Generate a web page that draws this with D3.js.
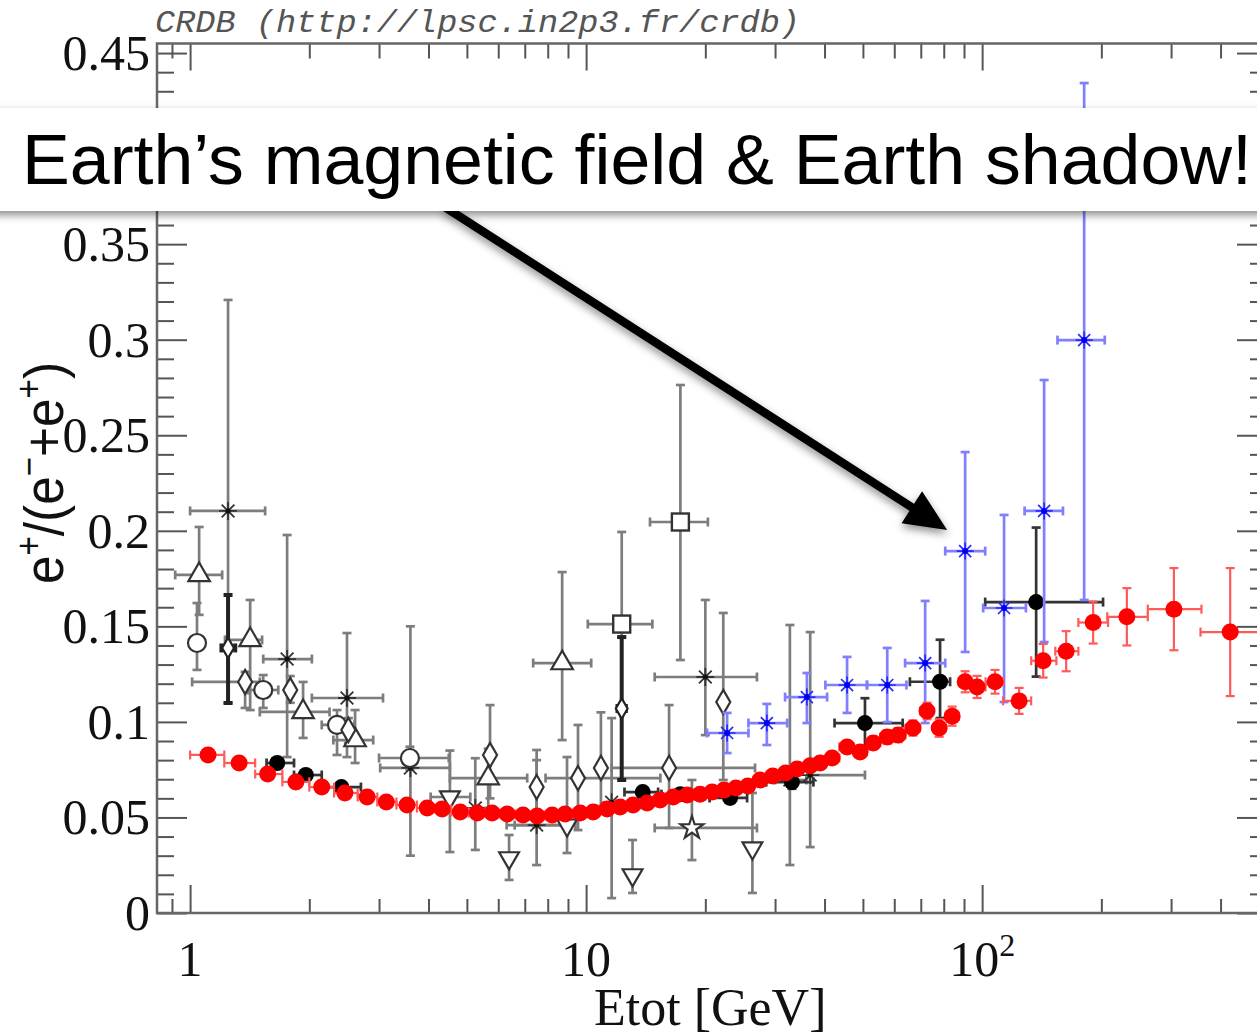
<!DOCTYPE html>
<html><head><meta charset="utf-8">
<script src="https://cdn.jsdelivr.net/npm/d3@7"></script>
<style>html,body{margin:0;padding:0;background:#fff;overflow:hidden}</style>
</head><body>
<svg id="c" width="1257" height="1035"></svg>
<script>
// ---------------- data ----------------
const xMajor = [1, 10, 100];
const xTickLabels = [["1", ""], ["10", ""], ["10", "2"]];
const xMinor = [0.9, 2, 3, 4, 5, 6, 7, 8, 9, 20, 30, 40, 50, 60, 70, 80, 90, 200, 300, 400, 500];
const yMajor = [0, 0.05, 0.1, 0.15, 0.2, 0.25, 0.3, 0.35, 0.4, 0.45];
const yTickLabels = ["0", "0.05", "0.1", "0.15", "0.2", "0.25", "0.3", "0.35", "0.4", "0.45"];
const yMinor = d3.range(1, 46).map(i => i / 100).filter(v => Math.round(v * 100) % 5 !== 0);

// red series: [E, value, error, Elow, Ehigh]
const redPts = [
 [1.11,.0827,.0022,1.00,1.22],[1.33,.0785,.002,1.22,1.46],[1.57,.0727,.002,1.46,1.71],
 [1.85,.0686,.0018,1.71,2.00],[2.15,.0659,.0018,2.00,2.31],[2.46,.0628,.0016,2.31,2.65],
 [2.80,.0607,.0016,2.65,2.97],[3.13,.0581,.0014,2.97,3.32],[3.53,.0565,.0014,3.32,3.74],
 [3.97,.0549,.0013,3.74,4.15],[4.33,.0544,.0013,4.15,4.56],[4.81,.0529,.0012,4.56,5.05],
 [5.31,.0523,.0012,5.05,5.55],[5.79,.0523,.0012,5.55,6.05],[6.32,.0518,.0012,6.05,6.62],
 [6.93,.0513,.0012,6.62,7.22],[7.52,.0508,.0012,7.22,7.86],[8.21,.0513,.0012,7.86,8.53],
 [8.85,.0518,.0013,8.53,9.25],[9.66,.0523,.0013,9.25,10.0],[10.42,.0529,.0013,10.0,10.85],
 [11.30,.0544,.0014,10.85,11.74],[12.19,.0555,.0014,11.74,12.66],[13.14,.0565,.0015,12.66,13.69],
 [14.26,.0576,.0015,13.69,14.81],[15.38,.0591,.0016,14.81,15.97],[16.6,.0607,.0017,15.97,17.3],
 [18.0,.0617,.0017,17.3,18.7],[19.4,.0622,.0018,18.7,20.1],[20.8,.0633,.0019,20.1,21.5],
 [22.3,.0643,.002,21.5,23.1],[23.9,.0654,.002,23.1,24.7],[25.6,.0665,.0021,24.7,26.5],
 [27.5,.0696,.0022,26.5,28.5],[29.6,.0717,.0023,28.5,30.7],[31.9,.0733,.0024,30.7,33.0],
 [34.1,.0754,.0025,33.0,35.4],[36.8,.0770,.0026,35.4,37.9],[39.0,.0785,.0027,37.9,40.4],
 [41.8,.0811,.0028,40.4,43.6],[45.6,.0869,.003,43.6,47.4],[49.2,.0843,.0031,47.4,51.1],
 [53.1,.0890,.0033,51.1,55.3],[57.6,.0921,.0035,55.3,59.5],[61.4,.0931,.0037,59.5,64.0],
 [66.9,.0968,.004,64.0,69.7],[72.6,.1057,.0043,69.7,75.2],[77.9,.0968,.0046,75.2,80.9],
 [84.0,.1030,.005,80.9,87.3],[90.6,.1210,.0055,87.3,93.8],[97.1,.1183,.0058,93.8,102],
 [107.8,.1210,.0062,102,113],[124,.1110,.0068,113,133],[142.6,.1320,.0088,133,154],
 [163,.1370,.0105,153,175],[190.7,.1520,.011,175,208],[232,.1550,.015,207,262],
 [305,.1590,.0215,262,358],[423,.1470,.0335,356,600]
];
// other series: [E, value, low, high, Elow, Ehigh]
const blackPts = [
 [1.66,.0785,.0770,.0800,1.56,1.83],[1.96,.0722,.0708,.0736,1.83,2.15],[2.41,.0659,.0645,.0673,2.15,2.70],
 [13.9,.0633,.0610,.0656,12.5,15.2],[17.3,.0622,.0597,.0647,15.5,19.0],[23.1,.0602,.0575,.0629,20.5,25.5],
 [33.1,.0685,.0650,.0720,28.5,37.5],[50.6,.0994,.0864,.1124,42.4,63.0],[78.3,.1210,.1020,.1430,65.7,83.0],
 [136.9,.1627,.1237,.2017,101.8,202]
];
const bluePts = [
 [22.7,.0942,.0837,.1047,20.2,25.7],[28.6,.0994,.0879,.1094,25.7,32.2],[36.1,.1130,.0994,.1256,31.8,40.6],
 [45.6,.1193,.1047,.1340,40.2,51.2],[57.6,.1193,.0999,.1387,51.2,64.4],[71.8,.1308,.0994,.1633,63.9,80.7],
 [90.6,.1894,.1366,.2412,80.7,101.8],[113.6,.1596,.1104,.2083,100.6,129],[143.4,.2104,.1418,.2789,128,160],
 [181,.2998,.1638,.4343,155,204]
];
const asteriskPts = [
 [1.247,.2104,.1099,.3208,1.0,1.547],[1.758,.1329,.0816,.1978,1.53,2.03],[2.49,.1125,.0816,.1465,2.03,3.07],
 [3.6,.0759,.0300,.1500,3.02,4.53],[5.25,.0550,.0330,.0810,null,null],[7.5,.0460,.0251,.0853,6.3,8.9],
 [11.6,.0580,.0078,.1020,null,null],[20.0,.1235,.0931,.1638,14.9,27.0],[32.7,.0696,.0251,.1507,30.0,36.0],
 [36.8,.0722,.0345,.1470,36.2,50.6]
];
const triUpPts = [
 [1.054,.1769,.1560,.2020,0.917,1.205],[1.418,.1429,.1062,.1638,1.225,1.52],[1.929,.1052,.0916,.1209,1.50,2.25],
 [2.61,.0905,.0785,.1062,2.3,2.9],[5.66,.0706,.0550,.0860,4.53,7.1],[8.7,.1308,.0905,.1784,7.35,10.3]
];
const circlePts = [
 [1.041,.1413,.1272,.1622,null,null],[1.53,.1167,.1073,.1245,1.4,1.67],[2.35,.0984,.0827,.1062,2.15,2.6],
 [3.59,.0811,.0750,.0870,3.0,4.5]
];
const diamondPts = [
 [1.377,.1209,.1073,.1262,1.012,1.50],[1.79,.1167,.1100,.1240,null,null],[2.51,.0958,.0890,.1020,null,null],
 [5.72,.0827,.0600,.1088,null,null],[7.5,.0659,.0450,.0800,null,null],[9.54,.0706,.0434,.0984,7.9,15.4],
 [10.9,.0759,.0560,.1050,null,null],[16.2,.0759,.0445,.1088,11.6,26.7],[22.2,.1104,.0696,.1570,null,null]
];
const squarePts = [
 [17.3,.2046,.1324,.2763,14.5,20.3],[12.3,.1512,.1444,.1994,10.1,14.7]
];
const thickPts = [
 [1.247,.1387,.1099,.1664,1.2,1.3],[12.3,.1070,.0696,.1444,12.0,12.6]
];
const triDownPts = [
 [4.53,.0607,.0319,.0850,4.05,5.1],[6.39,.0288,.0173,.0408,null,null],[8.95,.0460,.0314,.0816,6.6,9.4],
 [13.1,.0199,.0105,.0382,null,null],[26.3,.0340,.0105,.0628,null,null]
];
const starPts = [[18.5,.0445,.0277,.0696,14.9,27.0]];

// annotation anchor points (data coordinates)
const arrowTail = [4.4, 0.3694];
const arrowTip = [81.6, 0.2004];
const calloutText = "Earth\u2019s magnetic field & Earth shadow!";

// ---------------- chart ----------------
const svg = d3.select("#c");
const x = d3.scaleLog().domain([0.825, 524]).range([157, 1267]);
const y = d3.scaleLinear().domain([0, 0.455]).range([913, 43.5]);
const X0 = 157, X1 = 1267, Y0 = 913, Y1 = 43.5;
const BOX_TOP = 108, BOX_H = 103;

const defs = svg.append("defs");
const f = defs.append("filter").attr("id", "sh").attr("x", "-10%").attr("y", "-30%").attr("width", "120%").attr("height", "170%");
f.append("feDropShadow").attr("dx", 0).attr("dy", 4).attr("stdDeviation", 4).attr("flood-color", "#000").attr("flood-opacity", 0.45);

// header
svg.append("text").attr("x", 155).attr("y", 32)
  .attr("font-family", "Liberation Mono, monospace").attr("font-style", "italic")
  .attr("font-size", 32).attr("fill", "#555").attr("textLength", 645).attr("lengthAdjust", "spacingAndGlyphs")
  .text("CRDB (http://lpsc.in2p3.fr/crdb)");

// axes
function styleAxis(g) {
  g.select(".domain").remove();
  g.selectAll(".tick line").attr("stroke", "#555").attr("stroke-width", 2);
  g.selectAll(".tick text").remove();
}
svg.append("g").attr("transform", `translate(0,${Y0})`).call(d3.axisBottom(x).tickValues(xMajor).tickSize(-28)).call(styleAxis);
svg.append("g").attr("transform", `translate(0,${Y0})`).call(d3.axisBottom(x).tickValues(xMinor).tickSize(-14)).call(styleAxis);
svg.append("g").attr("transform", `translate(0,${Y1})`).call(d3.axisTop(x).tickValues(xMajor).tickSize(-27)).call(styleAxis);
svg.append("g").attr("transform", `translate(0,${Y1})`).call(d3.axisTop(x).tickValues(xMinor).tickSize(-15)).call(styleAxis);
svg.append("g").attr("transform", `translate(${X0},0)`).call(d3.axisLeft(y).tickValues(yMajor).tickSize(-30)).call(styleAxis);
svg.append("g").attr("transform", `translate(${X0},0)`).call(d3.axisLeft(y).tickValues(yMinor).tickSize(-17)).call(styleAxis);
svg.append("g").attr("transform", `translate(${X1},0)`).call(d3.axisRight(y).tickValues(yMajor).tickSize(-30)).call(styleAxis);
svg.append("g").attr("transform", `translate(${X1},0)`).call(d3.axisRight(y).tickValues(yMinor).tickSize(-17)).call(styleAxis);
svg.append("rect").attr("x", X0).attr("y", Y1).attr("width", X1 - X0).attr("height", Y0 - Y1)
  .attr("fill", "none").attr("stroke", "#666").attr("stroke-width", 2.5);

// tick labels (labels lying under the callout box are not visible in the reference)
const serif = "Liberation Serif, Times New Roman, serif";
const yLab = yMajor.map((v, i) => ({ v, t: yTickLabels[i] }))
  .filter(d => y(d.v) < BOX_TOP - 10 || y(d.v) > BOX_TOP + BOX_H + 10);
svg.append("g").selectAll("text").data(yLab).join("text")
  .attr("x", 150).attr("y", d => y(d.v)).attr("dy", "0.34em").attr("text-anchor", "end")
  .attr("font-family", serif).attr("font-size", 50).attr("fill", "#111")
  .text(d => d.t);
const xl = svg.append("g").selectAll("text").data(xMajor).join("text")
  .attr("x", d => x(d)).attr("y", 976).attr("text-anchor", "middle")
  .attr("font-family", serif).attr("font-size", 50).attr("fill", "#111");
xl.append("tspan").text((d, i) => xTickLabels[i][0]);
xl.append("tspan").attr("dy", -20).attr("font-size", 32).text((d, i) => xTickLabels[i][1]);
svg.append("text").attr("x", 594).attr("y", 1025).attr("font-family", serif).attr("font-size", 52)
  .attr("fill", "#111").text("Etot [GeV]");

// y title
const yt = svg.append("text").attr("transform", "translate(63,584) rotate(-90)")
  .attr("font-family", "Liberation Sans, Arial, sans-serif").attr("font-size", 56).attr("fill", "#111")
  .attr("textLength", 222).attr("lengthAdjust", "spacingAndGlyphs");
yt.append("tspan").text("e");
yt.append("tspan").attr("dy", -22).attr("font-size", 36).text("+");
yt.append("tspan").attr("dy", 22).text("/(e");
yt.append("tspan").attr("dy", -22).attr("font-size", 36).text("\u2212");
yt.append("tspan").attr("dy", 22).text("+e");
yt.append("tspan").attr("dy", -22).attr("font-size", 36).text("+");
yt.append("tspan").attr("dy", 22).text(")");

// error bars + markers
const plot = svg.append("g");
function errBars(data, color, width, cap) {
  const g = plot.append("g").attr("stroke", color).attr("stroke-width", width).attr("fill", "none");
  data.forEach(d => {
    const [E, v, lo, hi, el, eh] = d;
    const px = x(E), py = y(v);
    if (lo != null) {
      g.append("line").attr("x1", px).attr("x2", px).attr("y1", y(lo)).attr("y2", y(hi));
      g.append("line").attr("x1", px - cap).attr("x2", px + cap).attr("y1", y(lo)).attr("y2", y(lo));
      g.append("line").attr("x1", px - cap).attr("x2", px + cap).attr("y1", y(hi)).attr("y2", y(hi));
    }
    if (el != null) {
      g.append("line").attr("x1", x(el)).attr("x2", x(eh)).attr("y1", py).attr("y2", py);
      g.append("line").attr("x1", x(el)).attr("x2", x(el)).attr("y1", py - cap).attr("y2", py + cap);
      g.append("line").attr("x1", x(eh)).attr("x2", x(eh)).attr("y1", py - cap).attr("y2", py + cap);
    }
  });
}
function asteriskPath(r) {
  let p = "";
  [0, 45, 90, 135].forEach(a => {
    const c = Math.cos(a * Math.PI / 180) * r, s = Math.sin(a * Math.PI / 180) * r;
    p += `M${-c},${-s}L${c},${s}`;
  });
  return p;
}
function markers(data, fn) {
  const g = plot.append("g");
  data.forEach(d => fn(g.append("g").attr("transform", `translate(${x(d[0])},${y(d[1])})`)));
}
const sym = (type, size) => d3.symbol().type(type).size(size)();

const grey = "#7d7d7d";
errBars(asteriskPts, grey, 2.7, 4.5);
errBars(triUpPts, grey, 2.7, 4.5);
errBars(circlePts, grey, 2.7, 4.5);
errBars(diamondPts, grey, 2.7, 4.5);
errBars(squarePts, grey, 2.7, 4.5);
errBars(triDownPts, grey, 2.7, 4.5);
errBars(starPts, grey, 2.7, 4.5);
errBars(thickPts, "#222", 4, 4.5);

markers(asteriskPts, g => { g.append("path").attr("d", asteriskPath(9)).attr("stroke", "#333").attr("stroke-width", 1.8);
  g.append("circle").attr("r", 2.5).attr("fill", "#111"); });
markers(triUpPts, g => g.append("path").attr("d", sym(d3.symbolTriangle, 200)).attr("fill", "#fff").attr("stroke", "#333").attr("stroke-width", 2.2));
markers(circlePts, g => g.append("circle").attr("r", 9).attr("fill", "#fff").attr("stroke", "#333").attr("stroke-width", 2.2));
markers(diamondPts, g => g.append("path").attr("d", sym(d3.symbolDiamond, 170)).attr("fill", "#fff").attr("stroke", "#333").attr("stroke-width", 2.2));
markers(squarePts, g => g.append("rect").attr("x", -8.5).attr("y", -8.5).attr("width", 17).attr("height", 17).attr("fill", "#fff").attr("stroke", "#333").attr("stroke-width", 2.4));
markers(triDownPts, g => g.append("path").attr("d", sym(d3.symbolTriangle, 170)).attr("transform", "rotate(180)").attr("fill", "#fff").attr("stroke", "#333").attr("stroke-width", 2.2));
markers(starPts, g => g.append("path").attr("d", sym(d3.symbolStar, 160)).attr("fill", "#fff").attr("stroke", "#333").attr("stroke-width", 2.2));
markers(thickPts, g => g.append("path").attr("d", sym(d3.symbolDiamond, 120)).attr("fill", "#fff").attr("stroke", "#222").attr("stroke-width", 2.2));

errBars(blackPts, "#333", 2.7, 4.5);
markers(blackPts, g => g.append("circle").attr("r", 8).attr("fill", "#000"));

errBars(bluePts, "#7f7fff", 2.7, 4.5);
markers(bluePts, g => { g.append("path").attr("d", asteriskPath(8.5)).attr("stroke", "#2a2aff").attr("stroke-width", 1.7);
  g.append("circle").attr("r", 3).attr("fill", "#0000ee"); });

const redFull = redPts.map(d => [d[0], d[1], d[1] - d[2], d[1] + d[2], d[3], d[4]]);
errBars(redFull, "#ff5a5a", 2.2, 4.5);
markers(redFull, g => g.append("circle").attr("r", 8.5).attr("fill", "#ff0000"));

// arrow (annotation)
const ax0 = x(arrowTail[0]), ay0 = y(arrowTail[1]), ax1 = x(arrowTip[0]), ay1 = y(arrowTip[1]);
const len = Math.hypot(ax1 - ax0, ay1 - ay0), ux = (ax1 - ax0) / len, uy = (ay1 - ay0) / len;
const HL = 42, HW = 19, bx = ax1 - HL * ux, by = ay1 - HL * uy;
const ag = svg.append("g").attr("filter", "url(#sh)");
ag.append("line").attr("x1", ax0).attr("y1", ay0).attr("x2", bx + 4 * ux).attr("y2", by + 4 * uy)
  .attr("stroke", "#000").attr("stroke-width", 8.5);
ag.append("path").attr("d", `M${ax1},${ay1}L${bx - HW * uy},${by + HW * ux}L${bx + HW * uy},${by - HW * ux}Z`).attr("fill", "#000");

// callout box
svg.append("rect").attr("x", -10).attr("y", BOX_TOP).attr("width", 1280).attr("height", BOX_H)
  .attr("fill", "#fff").attr("filter", "url(#sh)");
const ct = svg.append("text").attr("x", 22).attr("y", 184)
  .attr("font-family", "Liberation Sans, Arial, sans-serif").attr("font-size", 71).attr("fill", "#000")
  .text(calloutText);
const w = ct.node().getComputedTextLength();
if (Math.abs(w - 1230) > 4) ct.attr("textLength", 1230).attr("lengthAdjust", "spacingAndGlyphs");
</script>
</body></html>
